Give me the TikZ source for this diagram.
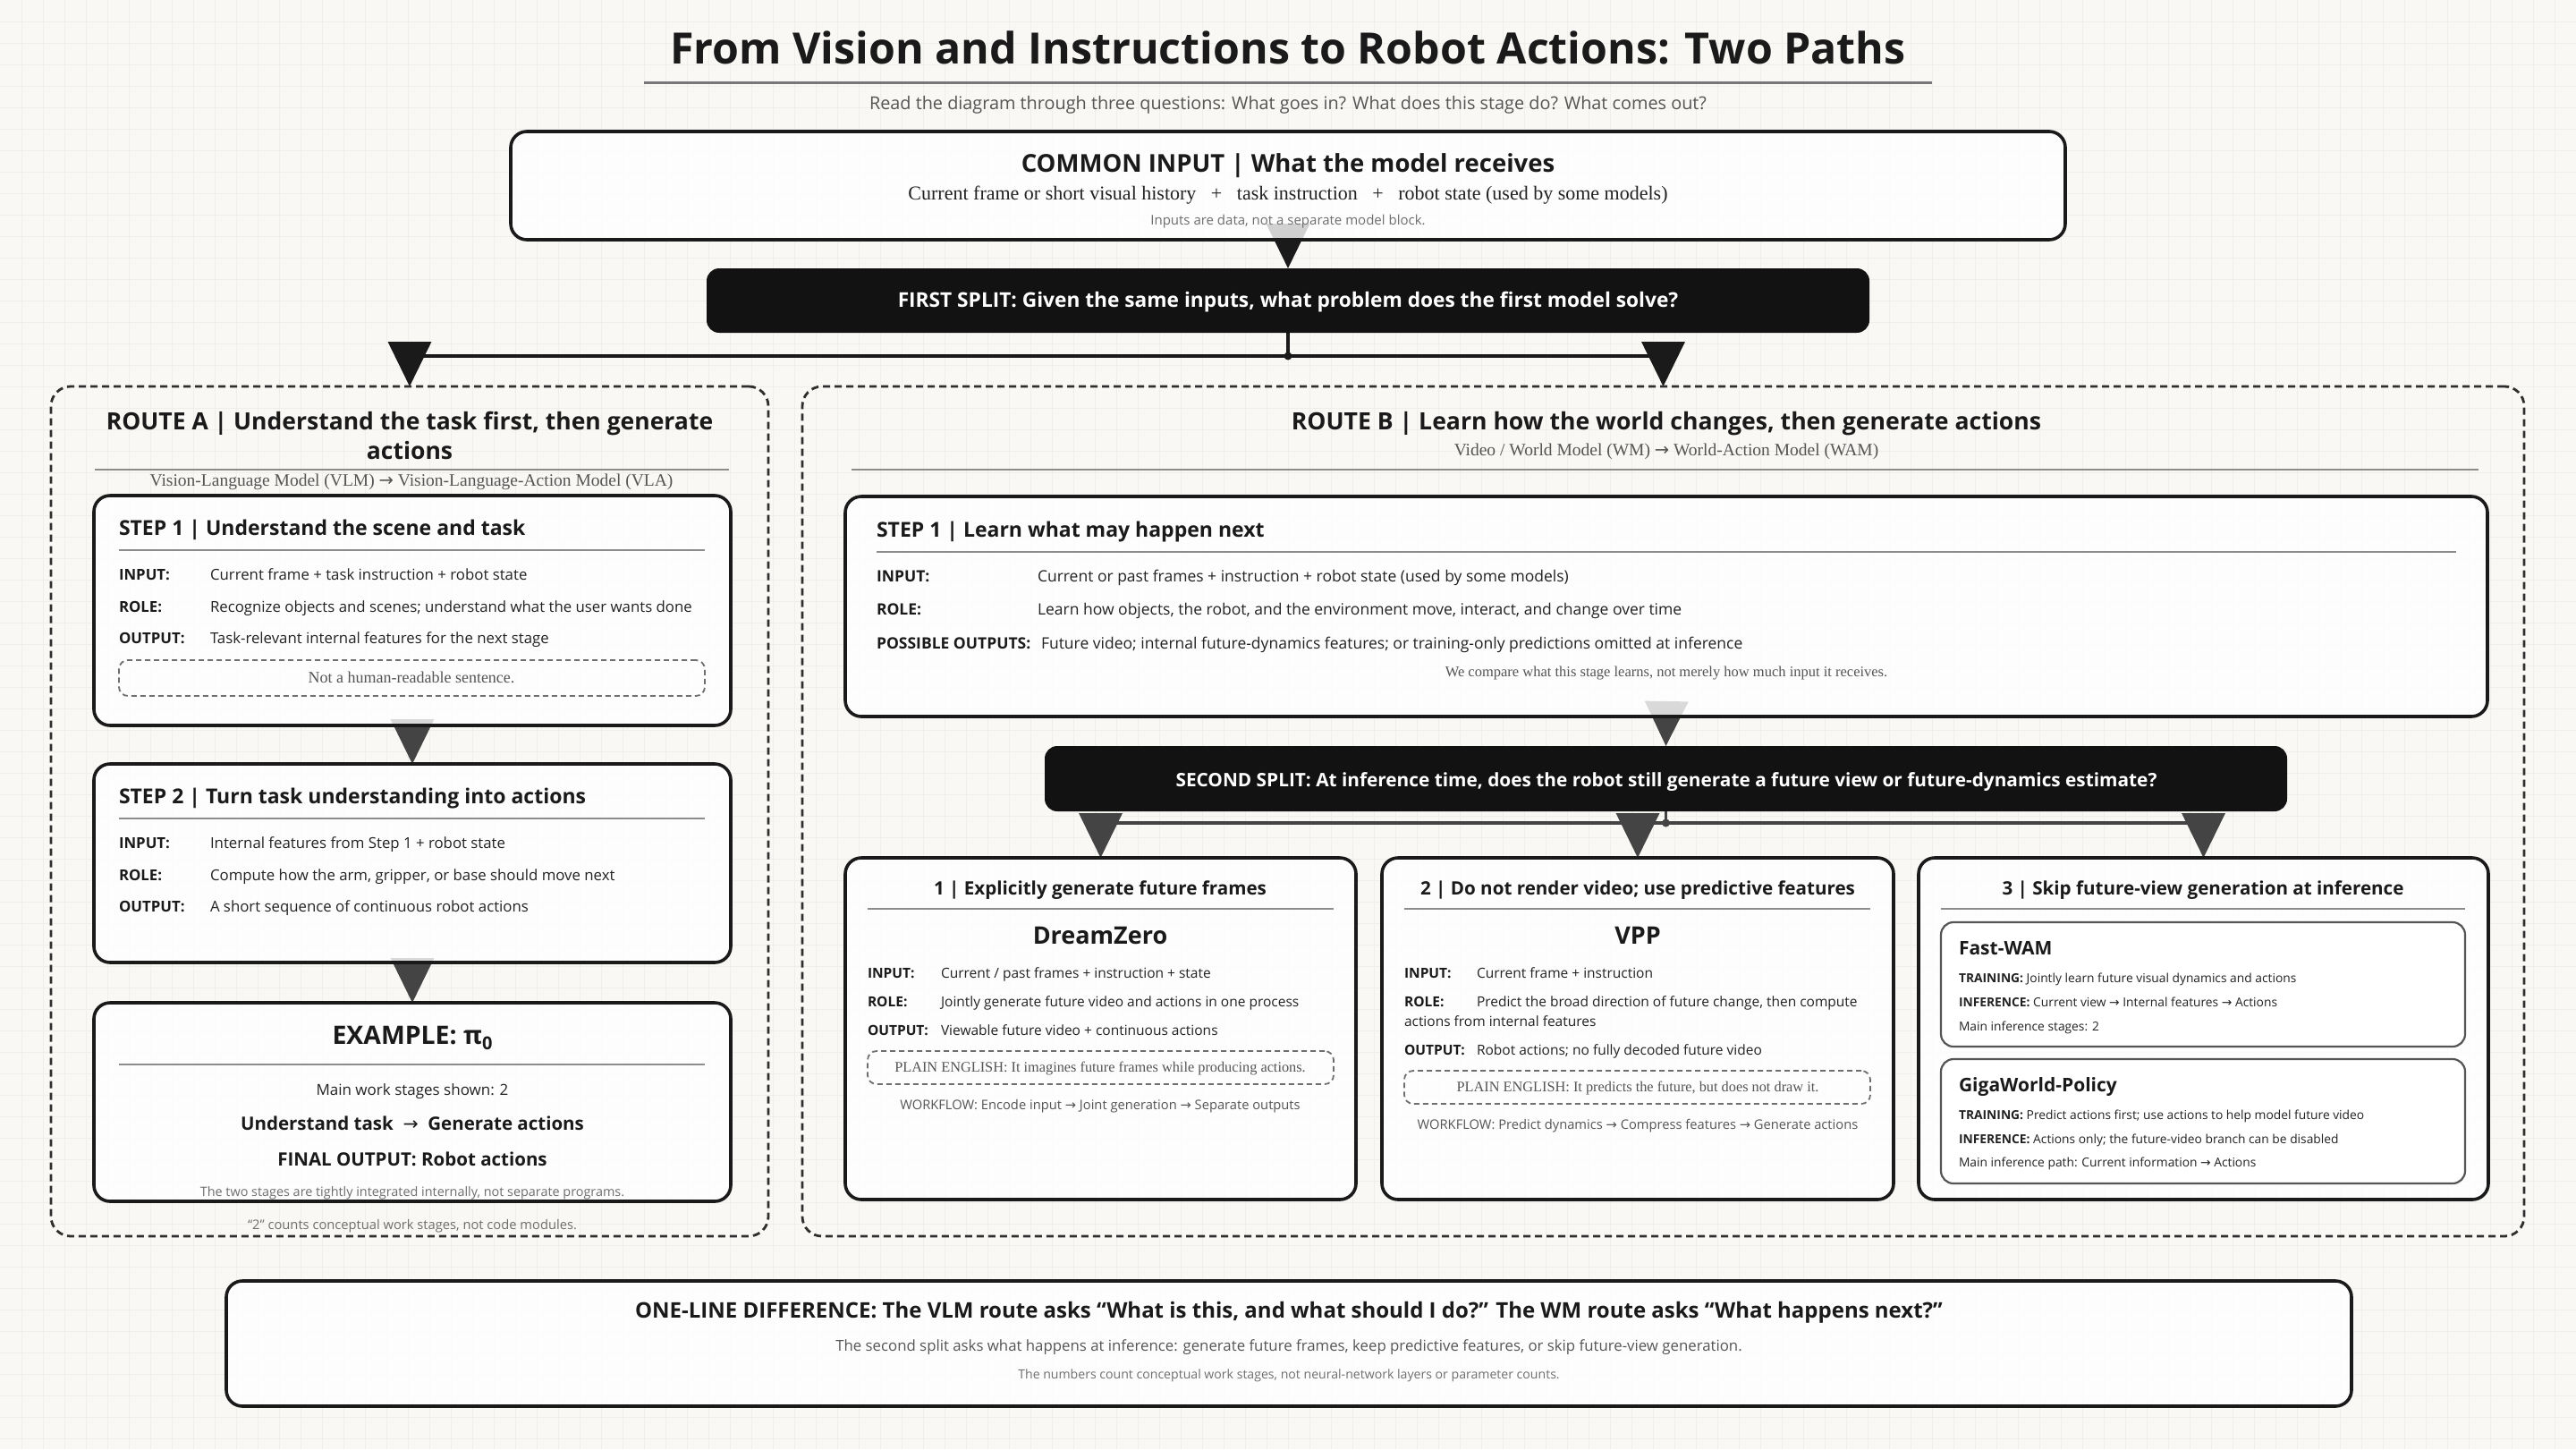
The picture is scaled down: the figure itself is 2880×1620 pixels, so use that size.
\documentclass[tikz,border=0pt]{standalone}
\usepackage{fontspec}
\setmainfont{Open Sans}
\newfontfamily\serifs{Liberation Serif}
\newfontfamily\symf{DejaVu Sans}
\usetikzlibrary{arrows.meta}
\newcommand\fz[1]{\fontsize{#1}{#1}\selectfont}
\newcommand\myarrow{{\symf →}}
\definecolor{bgc}{HTML}{F9F8F5}
\definecolor{gridc}{HTML}{EFEEEA}
\definecolor{ink}{HTML}{1A1A1A}
\definecolor{ink2}{HTML}{2E2E2E}
\definecolor{arrgc}{HTML}{444444}
\definecolor{splitc}{HTML}{121212}
\definecolor{rulec}{HTML}{8C8C8C}
\definecolor{subc}{HTML}{555555}
\definecolor{mutedc}{HTML}{6E6E6E}
\definecolor{bodyc}{HTML}{222222}
\definecolor{innerc}{HTML}{555555}
\pgfdeclarelayer{bg}
\pgfdeclarelayer{conn}
\pgfsetlayers{bg,conn,main}
\tikzset{
  card/.style={draw=ink, line width=3.6pt, rounded corners=18pt, fill=white, fill opacity=0.8, text opacity=1, anchor=north west},
  routebox/.style={draw=ink2, line width=2.8pt, dash pattern=on 8pt off 5pt, rounded corners=22pt, anchor=north west},
  splitbox/.style={fill=splitc, rounded corners=14pt, anchor=north west},
  innerbox/.style={draw=innerc, line width=2.2pt, rounded corners=14pt, fill=white, anchor=north west},
  notebox/.style={draw=mutedc, line width=1.8pt, dash pattern=on 6pt off 4pt, rounded corners=10pt, anchor=north west},
  hrule/.style={draw=rulec, line width=2.6pt},
  arrK/.style={draw=ink, line width=3.6pt, -{Triangle[length=50pt,width=48pt]}},
  lineK/.style={draw=ink, line width=3.6pt},
  arrG/.style={draw=arrgc, line width=3.6pt, -{Triangle[length=50pt,width=48pt]}},
  lineG/.style={draw=arrgc, line width=3.6pt},
  t/.style={anchor=base, text=ink},
  tl/.style={anchor=base west, text=ink},
}
\begin{document}
\begin{tikzpicture}[x=1pt,y=-1pt, every node/.style={inner sep=0pt, outer sep=0pt}]
\useasboundingbox (0,0) rectangle (2880,1620);
\begin{pgfonlayer}{bg}
\fill[bgc] (0,0) rectangle (2880,1620);
\foreach \i in {24,48,...,2880} \draw[gridc, line width=1pt] (\i,0) -- (\i,1620);
\foreach \j in {24,48,...,1620} \draw[gridc, line width=1pt] (0,\j) -- (2880,\j);
\end{pgfonlayer}

% ---------- title ----------
\node[t, font=\bfseries\fz{48.3}] (title) at (1440,71) {From Vision and Instructions to Robot Actions: Two Paths};
\draw[hrule, draw=rulec!85!black, line width=3pt] (720,92) -- (2160,92);
\node[t, font=\fz{19.85}, text=subc] (subtitle) at (1440,122) {Read the diagram through three questions: What goes in? What does this stage do? What comes out?};

% ---------- common input ----------
\node[card, minimum width=1738pt, minimum height=121pt] (common) at (571,147) {};
\node[t, font=\bfseries\fz{27.5}] (commonT) at (1440,192) {COMMON INPUT | What the model receives};
\node[t, font=\serifs\fz{22}, text=bodyc] (commonL) at (1440,223) {Current frame or short visual history \ \ + \ \ task instruction \ \ + \ \ robot state (used by some models)};
\node[t, font=\fz{15}, text=mutedc] (commonN) at (1440,251) {Inputs are data, not a separate model block.};

% ---------- first split ----------
\node[splitbox, minimum width=1300pt, minimum height=72pt] (split1) at (790,300) {};
\node[t, font=\bfseries\fz{22.7}, text=white] (split1T) at (1440,343) {FIRST SPLIT: Given the same inputs, what problem does the first model solve?};

% ---------- route A ----------
\node[routebox, minimum width=802pt, minimum height=950pt] (routeA) at (57,432) {};
\node[t, font=\bfseries\fz{26.5}] (routeAT1) at (458,480) {ROUTE A | Understand the task first, then generate};
\node[t, font=\bfseries\fz{26.5}] (routeAT2) at (458,513) {actions};
\draw[hrule] (106,525) -- (815,525);
\node[t, font=\serifs\fz{19.5}, text=subc] (routeAS) at (460,543) {Vision-Language Model (VLM) \myarrow{} Vision-Language-Action Model (VLA)};

\node[card, minimum width=712pt, minimum height=257pt] (a1) at (105,554) {};
\node[tl, font=\bfseries\fz{23}] (a1T) at (133,598) {STEP 1 | Understand the scene and task};
\draw[hrule] (133,615) -- (788,615);
\node[tl, font=\bfseries\fz{16.8}] (a1L1) at (133,648) {INPUT:};
\node[tl, font=\fz{16.8}, text=bodyc] (a1V1) at (235,648) {Current frame + task instruction + robot state};
\node[tl, font=\bfseries\fz{16.8}] (a1L2) at (133,684) {ROLE:};
\node[tl, font=\fz{16.8}, text=bodyc] (a1V2) at (235,684) {Recognize objects and scenes; understand what the user wants done};
\node[tl, font=\bfseries\fz{16.8}] (a1L3) at (133,719) {OUTPUT:};
\node[tl, font=\fz{16.8}, text=bodyc] (a1V3) at (235,719) {Task-relevant internal features for the next stage};
\node[notebox, minimum width=655pt, minimum height=40pt] (a1note) at (133,738) {};
\node[t, font=\serifs\fz{18}, text=subc] (a1noteT) at (460,763) {Not a human-readable sentence.};

\node[card, minimum width=712pt, minimum height=222pt] (a2) at (105,854) {};
\node[tl, font=\bfseries\fz{23}] (a2T) at (133,898) {STEP 2 | Turn task understanding into actions};
\draw[hrule] (133,915) -- (788,915);
\node[tl, font=\bfseries\fz{16.8}] (a2L1) at (133,948) {INPUT:};
\node[tl, font=\fz{16.8}, text=bodyc] (a2V1) at (235,948) {Internal features from Step 1 + robot state};
\node[tl, font=\bfseries\fz{16.8}] (a2L2) at (133,984) {ROLE:};
\node[tl, font=\fz{16.8}, text=bodyc] (a2V2) at (235,984) {Compute how the arm, gripper, or base should move next};
\node[tl, font=\bfseries\fz{16.8}] (a2L3) at (133,1019) {OUTPUT:};
\node[tl, font=\fz{16.8}, text=bodyc] (a2V3) at (235,1019) {A short sequence of continuous robot actions};

\node[card, minimum width=712pt, minimum height=222pt] (ex) at (105,1121) {};
\node[t, font=\bfseries\fz{28.4}] (exT) at (461,1167) {EXAMPLE: π\raisebox{-0.22em}{\fz{20}\bfseries 0}};
\draw[hrule] (133,1190) -- (788,1190);
\node[t, font=\fz{17}, text=bodyc] (exL1) at (461,1224) {Main work stages shown: 2};
\node[t, font=\bfseries\fz{20.5}] (exL2) at (461,1263) {Understand task \ {\mdseries\myarrow} \ Generate actions};
\node[t, font=\bfseries\fz{20.5}] (exL3) at (461,1303) {FINAL OUTPUT: Robot actions};
\node[t, font=\fz{14.4}, text=mutedc] (exL4) at (461,1337) {The two stages are tightly integrated internally, not separate programs.};
\node[t, font=\fz{14.7}, text=mutedc] (routeAN) at (461,1374) {“2” counts conceptual work stages, not code modules.};

% ---------- route B ----------
\node[routebox, minimum width=1925pt, minimum height=950pt] (routeB) at (897,432) {};
\node[t, font=\bfseries\fz{26.6}] (routeBT) at (1863,480) {ROUTE B | Learn how the world changes, then generate actions};
\node[t, font=\serifs\fz{19.5}, text=subc] (routeBS) at (1863,509) {Video / World Model (WM) \myarrow{} World-Action Model (WAM)};
\draw[hrule] (952,525) -- (2771,525);

\node[card, minimum width=1836pt, minimum height=246pt] (b1) at (945,555) {};
\node[tl, font=\bfseries\fz{23}] (b1T) at (980,600) {STEP 1 | Learn what may happen next};
\draw[hrule] (980,617) -- (2746,617);
\node[tl, font=\bfseries\fz{17.5}] (b1L1) at (980,650) {INPUT:};
\node[tl, font=\fz{17.5}, text=bodyc] (b1V1) at (1160,650) {Current or past frames + instruction + robot state (used by some models)};
\node[tl, font=\bfseries\fz{17.5}] (b1L2) at (980,687) {ROLE:};
\node[tl, font=\fz{17.5}, text=bodyc] (b1V2) at (1160,687) {Learn how objects, the robot, and the environment move, interact, and change over time};
\node[tl, font=\bfseries\fz{17.5}] (b1L3) at (980,725) {POSSIBLE OUTPUTS:};
\node[tl, font=\fz{17.5}, text=bodyc] (b1V3) at (1164,725) {Future video; internal future-dynamics features; or training-only predictions omitted at inference};
\node[t, font=\serifs\fz{16.5}, text=subc] (b1N) at (1863,756) {We compare what this stage learns, not merely how much input it receives.};

\node[splitbox, minimum width=1389pt, minimum height=73pt] (split2) at (1168,834) {};
\node[t, font=\bfseries\fz{20.8}, text=white] (split2T) at (1863,879) {SECOND SPLIT: At inference time, does the robot still generate a future view or future-dynamics estimate?};

% sub 1
\node[card, minimum width=571pt, minimum height=382pt] (sub1) at (945,959) {};
\node[t, font=\bfseries\fz{20.6}] (sub1T) at (1230,1000) {1 | Explicitly generate future frames};
\draw[hrule] (970,1016) -- (1491,1016);
\node[t, font=\bfseries\fz{27}] (sub1M) at (1230,1055) {DreamZero};
\node[tl, font=\bfseries\fz{15.5}] (s1L1) at (970,1093) {INPUT:};
\node[tl, font=\fz{15.5}, text=bodyc] (s1V1) at (1052,1093) {Current / past frames + instruction + state};
\node[tl, font=\bfseries\fz{15.5}] (s1L2) at (970,1125) {ROLE:};
\node[tl, font=\fz{15.5}, text=bodyc] (s1V2) at (1052,1125) {Jointly generate future video and actions in one process};
\node[tl, font=\bfseries\fz{15.5}] (s1L3) at (970,1157) {OUTPUT:};
\node[tl, font=\fz{15.5}, text=bodyc] (s1V3) at (1052,1157) {Viewable future video + continuous actions};
\node[notebox, minimum width=521pt, minimum height=37pt] (s1note) at (970,1175) {};
\node[t, font=\serifs\fz{16.3}, text=subc] (s1noteT) at (1230,1198) {PLAIN ENGLISH: It imagines future frames while producing actions.};
\node[t, font=\fz{14.7}, text=subc] (s1W) at (1230,1240) {WORKFLOW: Encode input \myarrow{} Joint generation \myarrow{} Separate outputs};

% sub 2
\node[card, minimum width=572pt, minimum height=382pt] (sub2) at (1545,959) {};
\node[t, font=\bfseries\fz{20.6}] (sub2T) at (1831,1000) {2 | Do not render video; use predictive features};
\draw[hrule] (1570,1016) -- (2091,1016);
\node[t, font=\bfseries\fz{27}] (sub2M) at (1831,1055) {VPP};
\node[tl, font=\bfseries\fz{15.5}] (s2L1) at (1570,1093) {INPUT:};
\node[tl, font=\fz{15.5}, text=bodyc] (s2V1) at (1651,1093) {Current frame + instruction};
\node[tl, font=\bfseries\fz{15.5}] (s2L2) at (1570,1125) {ROLE:};
\node[tl, font=\fz{15.5}, text=bodyc] (s2V2) at (1651,1125) {Predict the broad direction of future change, then compute};
\node[tl, font=\fz{15.5}, text=bodyc] (s2V2b) at (1570,1147) {actions from internal features};
\node[tl, font=\bfseries\fz{15.5}] (s2L3) at (1570,1179) {OUTPUT:};
\node[tl, font=\fz{15.5}, text=bodyc] (s2V3) at (1651,1179) {Robot actions; no fully decoded future video};
\node[notebox, minimum width=521pt, minimum height=37pt] (s2note) at (1570,1197) {};
\node[t, font=\serifs\fz{16.3}, text=subc] (s2noteT) at (1831,1220) {PLAIN ENGLISH: It predicts the future, but does not draw it.};
\node[t, font=\fz{14.7}, text=subc] (s2W) at (1831,1262) {WORKFLOW: Predict dynamics \myarrow{} Compress features \myarrow{} Generate actions};

% sub 3
\node[card, minimum width=637pt, minimum height=382pt] (sub3) at (2145,959) {};
\node[t, font=\bfseries\fz{20.6}] (sub3T) at (2463,1000) {3 | Skip future-view generation at inference};
\draw[hrule] (2170,1016) -- (2756,1016);
\node[innerbox, minimum width=586pt, minimum height=139pt] (fast) at (2170,1031) {};
\node[tl, font=\bfseries\fz{21}] (fastT) at (2190,1067) {Fast-WAM};
\node[tl, font=\fz{13.8}, text=bodyc] (fastL1) at (2190,1098) {\textbf{TRAINING:} Jointly learn future visual dynamics and actions};
\node[tl, font=\fz{13.8}, text=bodyc] (fastL2) at (2190,1125) {\textbf{INFERENCE:} Current view \myarrow{} Internal features \myarrow{} Actions};
\node[tl, font=\fz{13.8}, text=bodyc] (fastL3) at (2190,1152) {Main inference stages: 2};
\node[innerbox, minimum width=586pt, minimum height=139pt] (giga) at (2170,1184) {};
\node[tl, font=\bfseries\fz{21}] (gigaT) at (2190,1220) {GigaWorld-Policy};
\node[tl, font=\fz{13.8}, text=bodyc] (gigaL1) at (2190,1251) {\textbf{TRAINING:} Predict actions first; use actions to help model future video};
\node[tl, font=\fz{13.8}, text=bodyc] (gigaL2) at (2190,1278) {\textbf{INFERENCE:} Actions only; the future-video branch can be disabled};
\node[tl, font=\fz{13.8}, text=bodyc] (gigaL3) at (2190,1304) {Main inference path: Current information \myarrow{} Actions};

% ---------- bottom ----------
\node[card, minimum width=2376pt, minimum height=140pt] (bottom) at (253,1432) {};
\node[t, font=\bfseries\fz{24}] (botL1) at (1441,1473) {ONE-LINE DIFFERENCE: The VLM route asks “What is this, and what should I do?” The WM route asks “What happens next?”};
\node[t, font=\fz{16.8}, text=subc] (botL2) at (1441,1510) {The second split asks what happens at inference: generate future frames, keep predictive features, or skip future-view generation.};
\node[t, font=\fz{14.1}, text=mutedc] (botL3) at (1441,1541) {The numbers count conceptual work stages, not neural-network layers or parameter counts.};

% ---------- connectors ----------
\path (split1.south) ++(0,26) coordinate (j1);
\path (split2.south) ++(0,13) coordinate (j2);
\begin{pgfonlayer}{conn}
\draw[arrK] (common.south) -- (split1.north);
\draw[lineK] (split1.south) -- (j1);
\draw[arrK] (j1) -| (routeA.north);
\draw[arrK] (j1) -| (routeB.north);
\fill[ink] (j1) circle (4.5pt);
\draw[arrG] (a1.south) -- (a2.north);
\draw[arrG] (a2.south) -- (ex.north);
\draw[arrG] (b1.south) -- (split2.north);
\draw[lineG] (split2.south) -- (j2);
\draw[arrG] (j2) -| (sub1.north);
\draw[arrG] (j2) -| (sub2.north);
\draw[arrG] (j2) -| (sub3.north);
\fill[arrgc] (j2) circle (4.5pt);
\end{pgfonlayer}
\end{tikzpicture}
\end{document}
